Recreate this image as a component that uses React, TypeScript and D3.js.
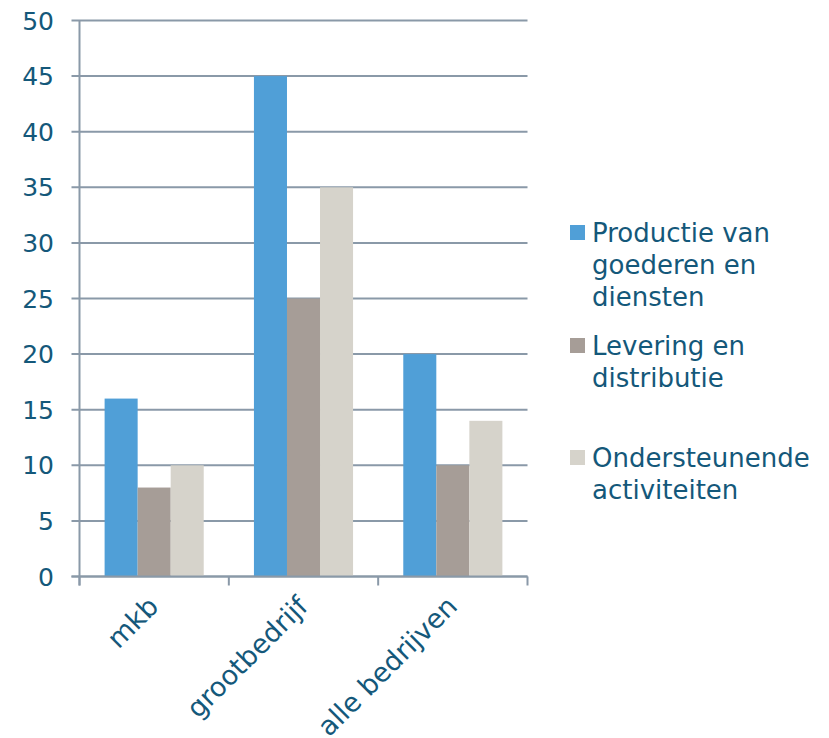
import React from "react";
import * as d3 from "d3";

const categories = ["mkb", "grootbedrijf", "alle bedrijven"];
const seriesNames = ["Productie van goederen en diensten", "Levering en distributie", "Ondersteunende activiteiten"];
const legendLines = [["Productie van", "goederen en", "diensten"], ["Levering en", "distributie"], ["Ondersteunende", "activiteiten"]];
const productie = [16, 45, 20];
const levering = [8, 25, 10];
const ondersteunend = [10, 35, 14];
const yTicks = [0, 5, 10, 15, 20, 25, 30, 35, 40, 45, 50];
const colors = ["#509fd7", "#a69d97", "#d6d3cb"];

const W = 829, H = 738;
const left = 79.5, right = 527.5, top = 20.5, bottom = 576.5;
const textColor = "#14587a";
const gridColor = "#8a99a8";
const font = "'DejaVu Sans', Verdana, sans-serif";

export default function App() {
  const series = [productie, levering, ondersteunend];
  const y = d3.scaleLinear().domain([0, 50]).range([bottom, top]);
  const x0 = d3.scaleBand<string>().domain(categories).range([left, right]).padding(0);
  const x1 = d3.scaleBand<number>().domain([0, 1, 2]).range([0, x0.bandwidth()]).paddingInner(0).paddingOuter(0.76);
  const boundaries = [...categories.map((c) => x0(c) as number), right];
  const legendY = [242, 355, 467];
  const lineH = 32;

  return (
    <svg width={W} height={H} style={{ position: "absolute", left: 0, top: 0, background: "#fff" }}>
      {yTicks.map((t) => (
        <g key={t}>
          <line x1={left - 8} x2={right} y1={y(t)} y2={y(t)} stroke={gridColor} strokeWidth={2} />
          <text x={54} y={y(t)} dy="0.36em" textAnchor="end" fontFamily={font} fontSize={25} fill={textColor}>
            {t}
          </text>
        </g>
      ))}
      {categories.map((c, ci) =>
        series.map((s, si) => (
          <rect
            key={c + si}
            x={(x0(c) as number) + (x1(si) as number)}
            y={y(s[ci])}
            width={x1.bandwidth()}
            height={y(0) - y(s[ci])}
            fill={colors[si]}
          />
        ))
      )}
      <line x1={left} x2={left} y1={top} y2={bottom + 9} stroke={gridColor} strokeWidth={2} />
      <line x1={left - 8} x2={right} y1={bottom} y2={bottom} stroke={gridColor} strokeWidth={2} />
      {boundaries.map((b, i) => (
        <line key={i} x1={b} x2={b} y1={bottom} y2={bottom + 9} stroke={gridColor} strokeWidth={2} />
      ))}
      {categories.map((c) => {
        const cx = (x0(c) as number) + x0.bandwidth() / 2 + 6;
        const cy = 608;
        return (
          <text key={c} x={cx} y={cy} transform={`rotate(-45 ${cx} ${cy})`} textAnchor="end" fontFamily={font} fontSize={27} fill={textColor}>
            {c}
          </text>
        );
      })}
      {seriesNames.map((n, i) => (
        <g key={n}>
          <rect x={570} y={legendY[i] - 17} width={15} height={15} fill={colors[i]} />
          <text fontFamily={font} fontSize={26} fill={textColor}>
            {legendLines[i].map((l, li) => (
              <tspan key={li} x={592} y={legendY[i] + li * lineH}>
                {l}
              </tspan>
            ))}
          </text>
        </g>
      ))}
    </svg>
  );
}
